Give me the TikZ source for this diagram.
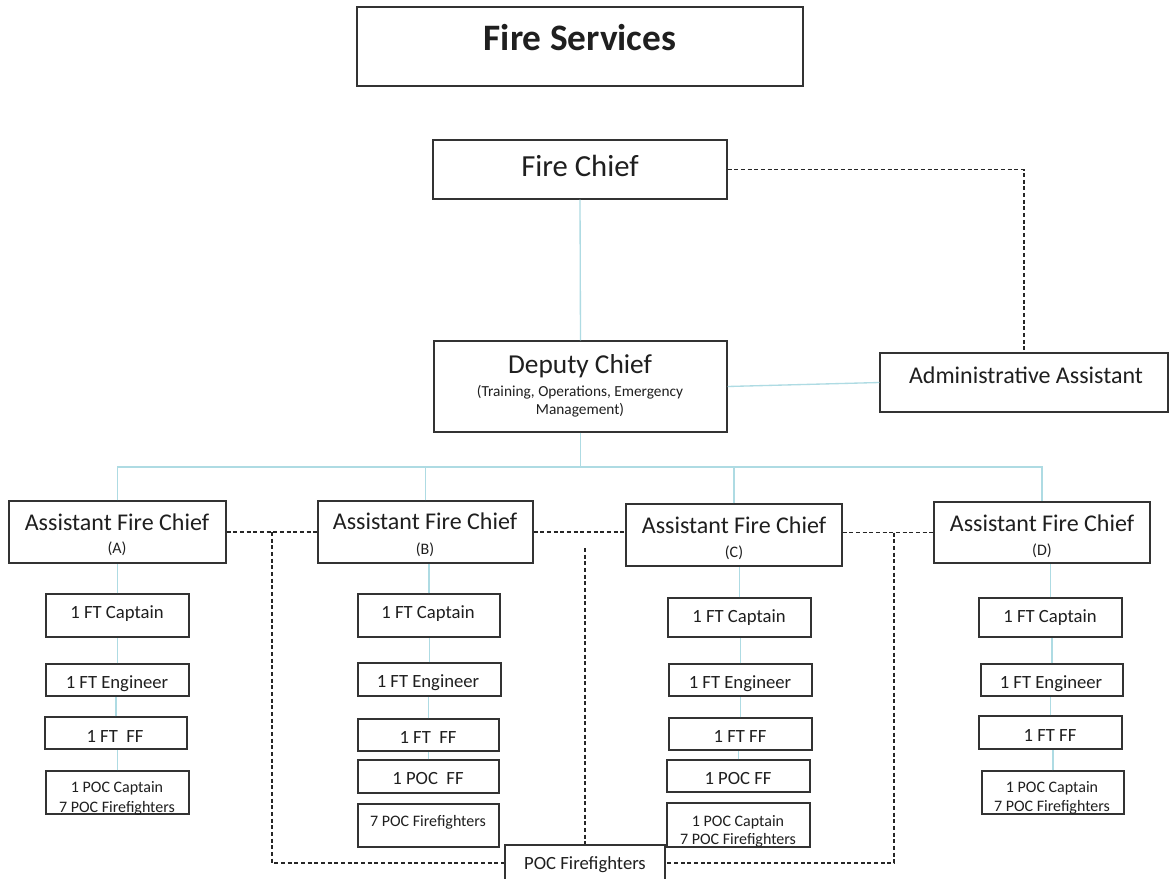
\documentclass[tikz,border=0pt]{standalone}
\usepackage{fontspec}
\setmainfont{Carlito}
\usetikzlibrary{fit,calc}
\definecolor{lblue}{HTML}{AEDBE3}
\newcommand\bx[5]{\node[box, fit={(#2,#3) (#4,#5)}] (#1) {};}
\newcommand\tx[5]{\node[lbl, font=\fontsize{#2}{#2}\selectfont] (#1) at (#3,#4) {#5};}
\newcommand\vup[2]{\draw[tree] (#2.north) -- (#2.north |- #1.south);}
\begin{document}
\begin{tikzpicture}[x=0.75pt,y=-0.75pt,
  box/.style={draw=black!80, line width=0.9pt, inner sep=0pt},
  tree/.style={draw=lblue, line width=1pt},
  dline/.style={draw=black!85, line width=0.8pt, dash pattern=on 3pt off 2pt},
  lbl/.style={anchor=base, inner sep=0pt, text=black!88},
]
\useasboundingbox[fill=white] (0,0) rectangle (1170,878);

% boxes
\bx{fs}{357}{7}{803}{86}
\bx{fc}{433}{140}{727}{199}
\bx{dc}{434}{341}{727}{432}
\bx{aa}{880}{353}{1168}{412}
\bx{afA}{9}{501}{226}{563}
\bx{afB}{318}{501}{533}{563}
\bx{afC}{626}{504}{842}{566}
\bx{afD}{934}{502}{1150}{563}
\bx{capA}{46}{594}{189}{637}
\bx{engA}{46}{664}{189}{696}
\bx{ffA}{45}{717}{187}{749}
\bx{pocA}{46}{771}{189}{814}
\bx{capB}{358}{594}{500}{637}
\bx{engB}{358}{663}{501}{696}
\bx{ffB}{358}{719}{499}{751}
\bx{pffB}{358}{760}{499}{793}
\bx{sevB}{358}{804}{499}{847}
\bx{capC}{668}{598}{811}{637}
\bx{engC}{669}{664}{812}{696}
\bx{ffC}{669}{718}{812}{750}
\bx{pffC}{667}{760}{810}{792}
\bx{pocC}{667}{803}{810}{847}
\bx{capD}{979}{598}{1122}{637}
\bx{engD}{981}{664}{1123}{696}
\bx{ffD}{979}{716}{1122}{749}
\bx{pocD}{982}{771}{1124}{814}
\bx{poc}{505}{845}{665}{881}

% texts
\node[lbl, font=\fontsize{28}{28}\selectfont\bfseries] (tfs) at (580,50) {Fire Services};
\tx{tfc}{23}{580}{176}{Fire Chief}
\tx{tdc}{20.5}{580}{373}{Deputy Chief}
\tx{tdc2}{11.5}{580}{396}{(Training, Operations, Emergency}
\tx{tdc3}{11.5}{580}{414}{Management)}
\tx{taa}{18}{1026}{383}{Administrative Assistant}
\tx{tafA}{18}{117}{530}{Assistant Fire Chief}
\tx{tafA2}{12}{117}{553}{(A)}
\tx{tafB}{18}{425}{529}{Assistant Fire Chief}
\tx{tafB2}{12}{425}{554}{(B)}
\tx{tafC}{18}{734}{533}{Assistant Fire Chief}
\tx{tafC2}{12}{734}{557}{(C)}
\tx{tafD}{18}{1042}{531}{Assistant Fire Chief}
\tx{tafD2}{12}{1042}{555}{(D)}
% column A
\tx{tcapA}{14}{117}{618}{1 FT Captain}
\tx{tengA}{14}{117}{688}{1 FT Engineer}
\tx{tffA}{14}{115}{742}{1~FT~~FF}
\tx{tpocA}{12}{117}{792}{1 POC Captain}
\tx{tpocA2}{12}{117}{812}{7 POC Firefighters}
% column B
\tx{tcapB}{14}{428}{618}{1 FT Captain}
\tx{tengB}{14}{428}{687}{1 FT Engineer}
\tx{tffB}{14}{428}{743}{1~FT~~FF}
\tx{tpffB}{14}{428}{784}{1~POC~~FF}
\tx{tsevB}{12}{428}{826}{7 POC Firefighters}
% column C
\tx{tcapC}{14}{739}{622}{1 FT Captain}
\tx{tengC}{14}{740}{688}{1 FT Engineer}
\tx{tffC}{14}{740}{742}{1 FT FF}
\tx{tpffC}{14}{738}{784}{1 POC FF}
\tx{tpocC}{12}{738}{826}{1 POC Captain}
\tx{tpocC2}{12}{738}{844}{7 POC Firefighters}
% column D
\tx{tcapD}{14}{1050}{622}{1 FT Captain}
\tx{tengD}{14}{1051}{688}{1 FT Engineer}
\tx{tffD}{14}{1050}{741}{1 FT FF}
\tx{tpocD}{12}{1052}{792}{1 POC Captain}
\tx{tpocD2}{12}{1052}{811}{7 POC Firefighters}
\tx{tpoc}{14}{585}{869}{POC Firefighters}

% solid tree connectors
\coordinate (bus) at (580,467);
\draw[tree] (fc.south) -- (dc.north);
\draw[tree] (dc.east) -- (aa.west);
\draw[tree] (dc.south) -- (dc.south |- bus);
\draw[tree] (afA.north) -- (afA.north |- bus) -- (afD.north |- bus) -- (afD.north);
\draw[tree] (afB.north) -- (afB.north |- bus);
\draw[tree] (afC.north) -- (afC.north |- bus);
\vup{afA}{capA} \vup{capA}{engA} \vup{engA}{ffA} \vup{ffA}{pocA}
\vup{afB}{capB} \vup{capB}{engB} \vup{engB}{ffB} \vup{ffB}{pffB}
\vup{afC}{capC} \vup{capC}{engC} \vup{engC}{ffC} \vup{ffC}{pffC}
\vup{afD}{capD} \vup{capD}{engD} \vup{engD}{ffD} \vup{ffD}{pocD}

% dashed connectors
\draw[dline] (fc.east) -| (aa.north);
\draw[dline] (afA.east) -- (afB.west);
\draw[dline] (afB.east) -- (afB.east -| afC.west);
\draw[dline] (afC.east |- afD.west) -- (afD.west);
\coordinate (dL) at (272,532);
\coordinate (dM) at (585,548);
\coordinate (dR) at (894,532.5);
\draw[dline] (dL) |- (poc.west);
\draw[dline] (dM) -- (poc.north);
\draw[dline] (dR) |- (poc.east);
\end{tikzpicture}
\end{document}
